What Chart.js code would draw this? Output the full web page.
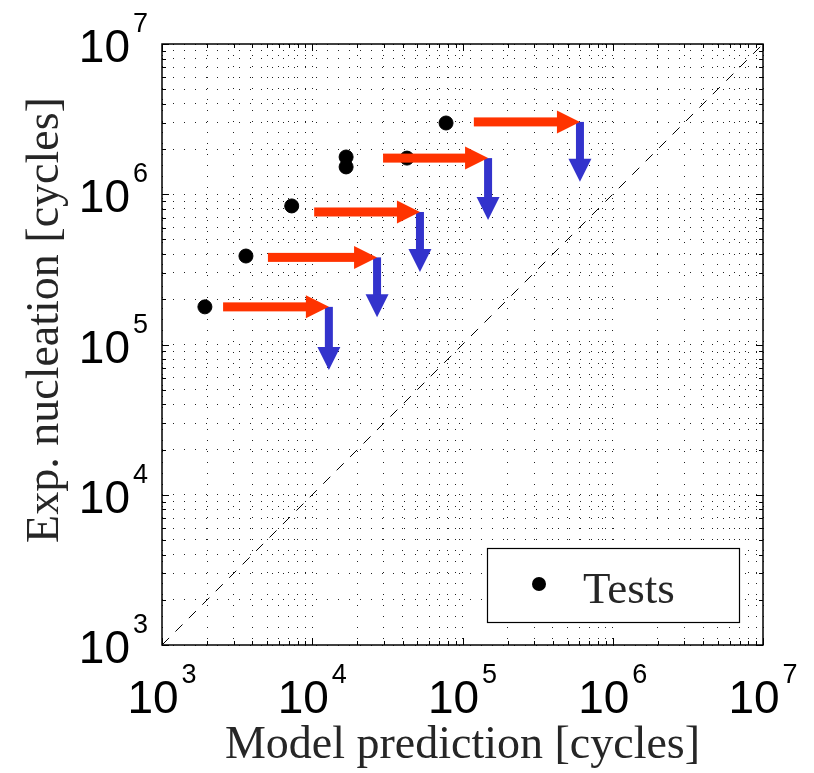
<!DOCTYPE html>
<html>
<head>
<meta charset="utf-8">
<script src="https://cdn.jsdelivr.net/npm/chart.js@4.4.1/dist/chart.umd.min.js"></script>
<style>
  html, body { margin: 0; padding: 0; background: #fff; }
  #wrap { width: 814px; height: 773px; }
</style>
</head>
<body>
<div id="wrap"><canvas id="data"></canvas></div>
<script>
// test points: model prediction vs experimental nucleation life
var test_pred = [1930, 3620, 7300, 16800, 16800, 42700, 77700];
var test_exp = [178000, 388000, 836000, 1770000, 1520000, 1740000, 2980000];

// red arrows: shift of the prediction
var red_from = [2550, 5070, 10300, 29600, 119000];
var red_to = [12900, 27000, 52100, 148000, 605000];
var red_y = [178000, 380000, 762000, 1740000, 3030000];

// blue arrows go down from the tip of each red arrow
var blue_to = [67700, 152000, 304000, 675000, 1210000];

// y = x reference line
var diag_ends = [1e3, 1e7];

var decade_ticks = [1e3, 1e4, 1e5, 1e6, 1e7];
var decade_exps = ['3', '4', '5', '6', '7'];

var x_title = 'Model prediction [cycles]';
var y_title = 'Exp. nucleation [cycles]';
var legend_label = 'Tests';

var SERIF = '"Liberation Serif", "Times New Roman", serif';
var SANS = '"Liberation Sans", Arial, sans-serif';
var RED = '#ff3300';
var BLUE = '#3333cc';

// grid at 1..9 x each decade (matlab minor grid)
var grid_values = [];
for (var i = 0; i < decade_ticks.length - 1; i++) {
    for (var m = 1; m <= 9; m++) grid_values.push(m * decade_ticks[i]);
}
grid_values.push(decade_ticks[decade_ticks.length - 1]);

function set_ticks(scale) {
    scale.ticks = grid_values.map(function (v) { return {value: v}; });
}

function arrow(ctx, x0, y0, x1, y1, shaft, head_w, head_l, color) {
    var ang = Math.atan2(y1 - y0, x1 - x0);
    var len = Math.hypot(x1 - x0, y1 - y0);
    ctx.save();
    ctx.translate(x0, y0);
    ctx.rotate(ang);
    ctx.fillStyle = color;
    ctx.fillRect(0, -shaft / 2, len - head_l + 1, shaft);
    ctx.beginPath();
    ctx.moveTo(len, 0);
    ctx.lineTo(len - head_l, -head_w / 2);
    ctx.lineTo(len - head_l, head_w / 2);
    ctx.closePath();
    ctx.fill();
    ctx.restore();
}

var arrows_plugin = {
    id: 'arrows',
    afterDatasetsDraw: function (chart) {
        var ctx = chart.ctx, xs = chart.scales.x, ys = chart.scales.y;
        for (var i = 0; i < red_y.length; i++) {
            var xt = xs.getPixelForValue(red_to[i]);
            var y0 = ys.getPixelForValue(red_y[i]);
            arrow(ctx, xt, y0, xt, ys.getPixelForValue(blue_to[i]), 8, 23, 23, BLUE);
            arrow(ctx, xs.getPixelForValue(red_from[i]), y0, xt, y0, 9, 23, 23, RED);
        }
    }
};

var frame_plugin = {
    id: 'frame',
    afterDraw: function (chart) {
        var ctx = chart.ctx, a = chart.chartArea, xs = chart.scales.x, ys = chart.scales.y;
        ctx.save();
        // inward ticks on all four sides
        ctx.strokeStyle = '#000';
        ctx.lineWidth = 1;
        ctx.beginPath();
        grid_values.forEach(function (v) {
            var major = decade_ticks.indexOf(v) >= 0;
            var len = major ? 7 : 4;
            var px = Math.round(xs.getPixelForValue(v)) + 0.5;
            var py = Math.round(ys.getPixelForValue(v)) + 0.5;
            ctx.moveTo(px, a.bottom); ctx.lineTo(px, a.bottom - len);
            ctx.moveTo(px, a.top); ctx.lineTo(px, a.top + len);
            ctx.moveTo(a.left, py); ctx.lineTo(a.left + len, py);
            ctx.moveTo(a.right, py); ctx.lineTo(a.right - len, py);
        });
        ctx.stroke();
        ctx.lineWidth = 1.5;
        ctx.strokeRect(a.left, a.top, a.right - a.left, a.bottom - a.top);

        // legend box
        var lx = a.left + 325, ly = a.top + 504, lw = 252, lh = 74;
        ctx.fillStyle = '#fff';
        ctx.fillRect(lx, ly, lw, lh);
        ctx.lineWidth = 1.2;
        ctx.strokeRect(lx + 0.5, ly + 0.5, lw, lh);
        ctx.fillStyle = '#000';
        ctx.beginPath();
        ctx.arc(lx + 52, ly + 36, 7, 0, Math.PI * 2);
        ctx.fill();
        ctx.fillStyle = '#262626';
        ctx.font = '45px ' + SERIF;
        ctx.textAlign = 'left';
        ctx.textBaseline = 'alphabetic';
        ctx.fillText(legend_label, lx + 96, ly + 55);

        // tick labels, 10 with a raised exponent
        ctx.fillStyle = '#000';
        decade_ticks.forEach(function (v, k) {
            ctx.font = '46px ' + SANS;
            var w10 = ctx.measureText('10').width;
            ctx.font = '27px ' + SANS;
            var we = ctx.measureText(decade_exps[k]).width;
            // x axis
            var px = xs.getPixelForValue(v);
            var left = px - (w10 + 3 + we) / 2;
            ctx.textAlign = 'left';
            ctx.font = '46px ' + SANS;
            ctx.fillText('10', left, a.bottom + 68);
            ctx.font = '27px ' + SANS;
            ctx.fillText(decade_exps[k], left + w10 + 3, a.bottom + 38);
            // y axis
            var py = ys.getPixelForValue(v);
            var right = a.left - 14;
            ctx.textAlign = 'right';
            ctx.fillText(decade_exps[k], right, py - 12);
            ctx.font = '46px ' + SANS;
            ctx.fillText('10', right - we - 3, py + 18);
        });

        // axis titles
        ctx.fillStyle = '#262626';
        ctx.font = '46px ' + SERIF;
        ctx.textAlign = 'center';
        ctx.fillText(x_title, (a.left + a.right) / 2, a.bottom + 113);
        ctx.translate(58, a.top + 276);
        ctx.rotate(-Math.PI / 2);
        ctx.fillText(y_title, 0, 0);
        ctx.restore();
    }
};

var config = {
    type: 'scatter',
    data: {
        datasets: [
            {
                type: 'line',
                label: 'y = x',
                data: diag_ends.map(function (v) { return {x: v, y: v}; }),
                borderColor: '#000',
                borderWidth: 1,
                borderDash: [10, 9],
                pointRadius: 0,
                fill: false
            },
            {
                label: legend_label,
                data: test_pred.map(function (p, i) { return {x: p, y: test_exp[i]}; }),
                backgroundColor: '#000',
                borderColor: '#000',
                pointRadius: 7,
                pointHoverRadius: 7
            }
        ]
    },
    options: {
        responsive: true,
        maintainAspectRatio: false,
        animation: false,
        events: [],
        layout: {padding: {left: 0, top: 44, right: 51, bottom: 0}},
        plugins: {
            legend: {display: false},
            tooltip: {enabled: false}
        },
        scales: {
            x: {
                type: 'logarithmic',
                min: 1e3,
                max: 1e7,
                afterBuildTicks: set_ticks,
                afterFit: function (s) { s.height = 128; },
                ticks: {display: false},
                grid: {color: '#222', lineWidth: 1, drawTicks: false},
                border: {display: false, dash: [1, 10]}
            },
            y: {
                type: 'logarithmic',
                min: 1e3,
                max: 1e7,
                afterBuildTicks: set_ticks,
                afterFit: function (s) { s.width = 162; },
                ticks: {display: false},
                grid: {color: '#222', lineWidth: 1, drawTicks: false},
                border: {display: false, dash: [1, 10]}
            }
        }
    },
    plugins: [arrows_plugin, frame_plugin]
};

(function () {
    new Chart(document.getElementById('data'), config);
})();
</script>
</body>
</html>
